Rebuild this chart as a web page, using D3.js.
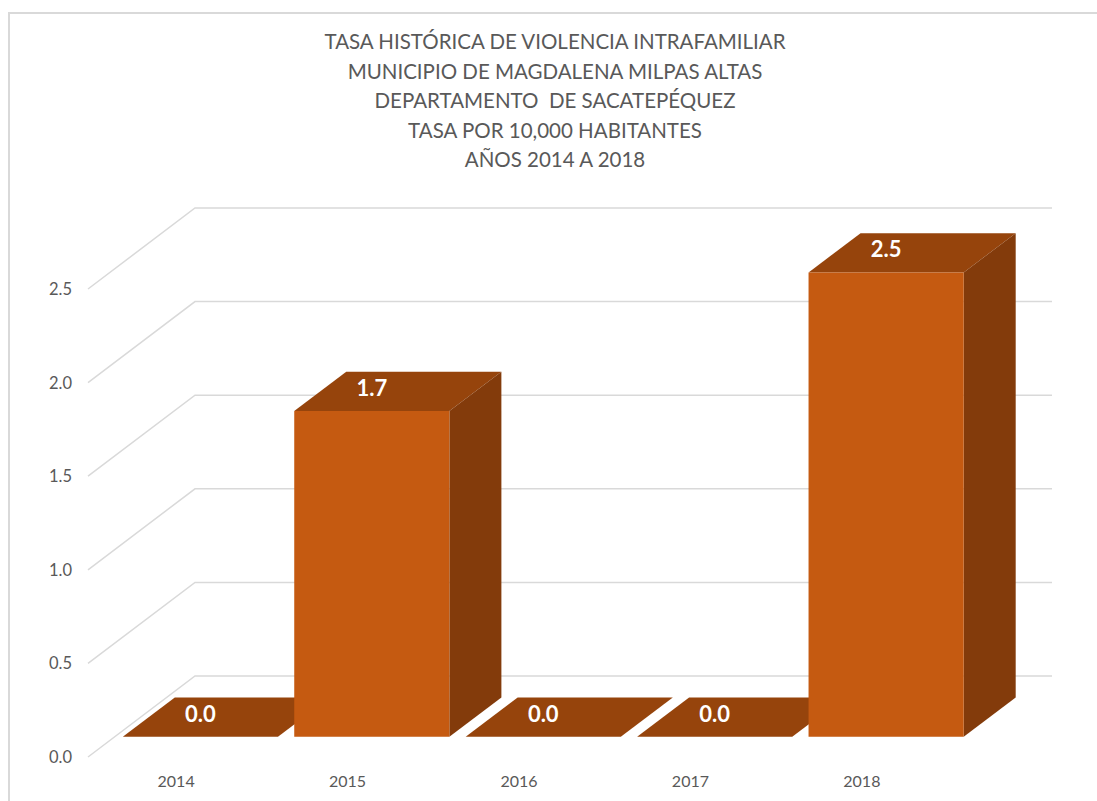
<!DOCTYPE html>
<html>
<head>
<meta charset="utf-8">
<script src="https://cdn.jsdelivr.net/npm/d3@7"></script>
<style>
    body { margin: 0; background: #fff; }
    #chart { width: 1097px; height: 801px; }
    text { font-family: Lato, "Noto Sans", sans-serif; }
</style>
</head>
<body>
<div id="chart"></div>
<script>
// chart values
const years = ["2014", "2015", "2016", "2017", "2018"];
const rates = [0.0, 1.74, 0.0, 0.0, 2.48];
const yTicks = [0, 0.5, 1.0, 1.5, 2.0, 2.5];
const titleLines = [
    "TASA HISTÓRICA DE VIOLENCIA INTRAFAMILIAR",
    "MUNICIPIO DE MAGDALENA MILPAS ALTAS",
    "DEPARTAMENTO  DE SACATEPÉQUEZ",
    "TASA POR 10,000 HABITANTES",
    "AÑOS 2014 A 2018"
];

class bar3DChart {
    constructor(parentElement, years, rates) {
        this.parentElement = parentElement;
        this.years = years;
        this.rates = rates;
        this.initVis();
    }

    initVis() {
        let vis = this;

        vis.width = 1097;
        vis.height = 801;

        vis.svg = d3.select("#" + vis.parentElement).append("svg")
            .attr("width", vis.width)
            .attr("height", vis.height);

        // outer frame
        vis.svg.append("rect")
            .attr("x", 9)
            .attr("y", 13)
            .attr("width", 1100)
            .attr("height", 820)
            .attr("fill", "white")
            .attr("stroke", "#d9d9d9")
            .attr("stroke-width", 2);

        // front plane scales, depth goes up and right
        vis.x = d3.scaleBand().domain(vis.years).range([88, 945])
            .paddingInner(0.095).paddingOuter(0.047);
        vis.y = d3.scaleLinear().domain([0, 2.5]).range([757, 289]);
        vis.depth = {dx: 107, dy: -81};
        vis.barFront = 0.25;
        vis.barBack = 0.736;

        vis.proj = (px, v, d) => [px + d * vis.depth.dx, vis.y(v) + d * vis.depth.dy];

        // title
        vis.svg.append("g").selectAll("text")
            .data(titleLines)
            .join("text")
            .attr("x", 555)
            .attr("y", (d, i) => 49 + i * 29.6)
            .attr("text-anchor", "middle")
            .attr("fill", "#595959")
            .attr("font-size", 20.5)
            .style("white-space", "pre")
            .text(d => d);

        vis.drawGrid();
        vis.drawBars();
    }

    drawGrid() {
        let vis = this;
        let x0 = vis.x.range()[0], x1 = vis.x.range()[1];

        let grid = vis.svg.append("g").attr("class", "grid");
        grid.selectAll("path")
            .data(yTicks)
            .join("path")
            .attr("d", v => {
                let a = vis.proj(x0, v, 0), b = vis.proj(x0, v, 1), c = vis.proj(x1, v, 1);
                return d3.line()([a, b, c]);
            })
            .attr("fill", "none")
            .attr("stroke", "#d9d9d9")
            .attr("stroke-width", 1.5);

        vis.svg.append("g").selectAll("text")
            .data(yTicks)
            .join("text")
            .attr("x", 72)
            .attr("y", v => vis.y(v) + 6)
            .attr("text-anchor", "end")
            .attr("fill", "#595959")
            .attr("font-size", 16.5)
            .text(d3.format(".1f"));

        vis.svg.append("g").selectAll("text")
            .data(vis.years)
            .join("text")
            .attr("x", d => vis.x(d) + vis.x.bandwidth() / 2 + 2.5)
            .attr("y", 787)
            .attr("text-anchor", "middle")
            .attr("fill", "#595959")
            .attr("font-size", 16)
            .text(d => d);
    }

    drawBars() {
        let vis = this;
        let bw = vis.x.bandwidth();
        let f = vis.barFront, b = vis.barBack;

        vis.years.forEach((yr, i) => {
            let v = vis.rates[i];
            let xl = vis.x(yr), xr = xl + bw;
            let g = vis.svg.append("g").attr("class", "bar");

            // top face
            g.append("path")
                .attr("d", d3.line()([vis.proj(xl, v, f), vis.proj(xr, v, f), vis.proj(xr, v, b), vis.proj(xl, v, b)]) + "Z")
                .attr("fill", "#96440c");

            // right side
            g.append("path")
                .attr("d", d3.line()([vis.proj(xr, 0, f), vis.proj(xr, v, f), vis.proj(xr, v, b), vis.proj(xr, 0, b)]) + "Z")
                .attr("fill", "#833b0b");

            // front face
            g.append("path")
                .attr("d", d3.line()([vis.proj(xl, 0, f), vis.proj(xr, 0, f), vis.proj(xr, v, f), vis.proj(xl, v, f)]) + "Z")
                .attr("fill", "#c55a11");

            let top = vis.proj((xl + xr) / 2, v, f);
            g.append("text")
                .attr("x", top[0])
                .attr("y", top[1] - 15)
                .attr("text-anchor", "middle")
                .attr("fill", "white")
                .attr("font-weight", "bold")
                .attr("font-size", 22)
                .text(d3.format(".1f")(v));
        });
    }
}

new bar3DChart("chart", years, rates);
</script>
</body>
</html>
